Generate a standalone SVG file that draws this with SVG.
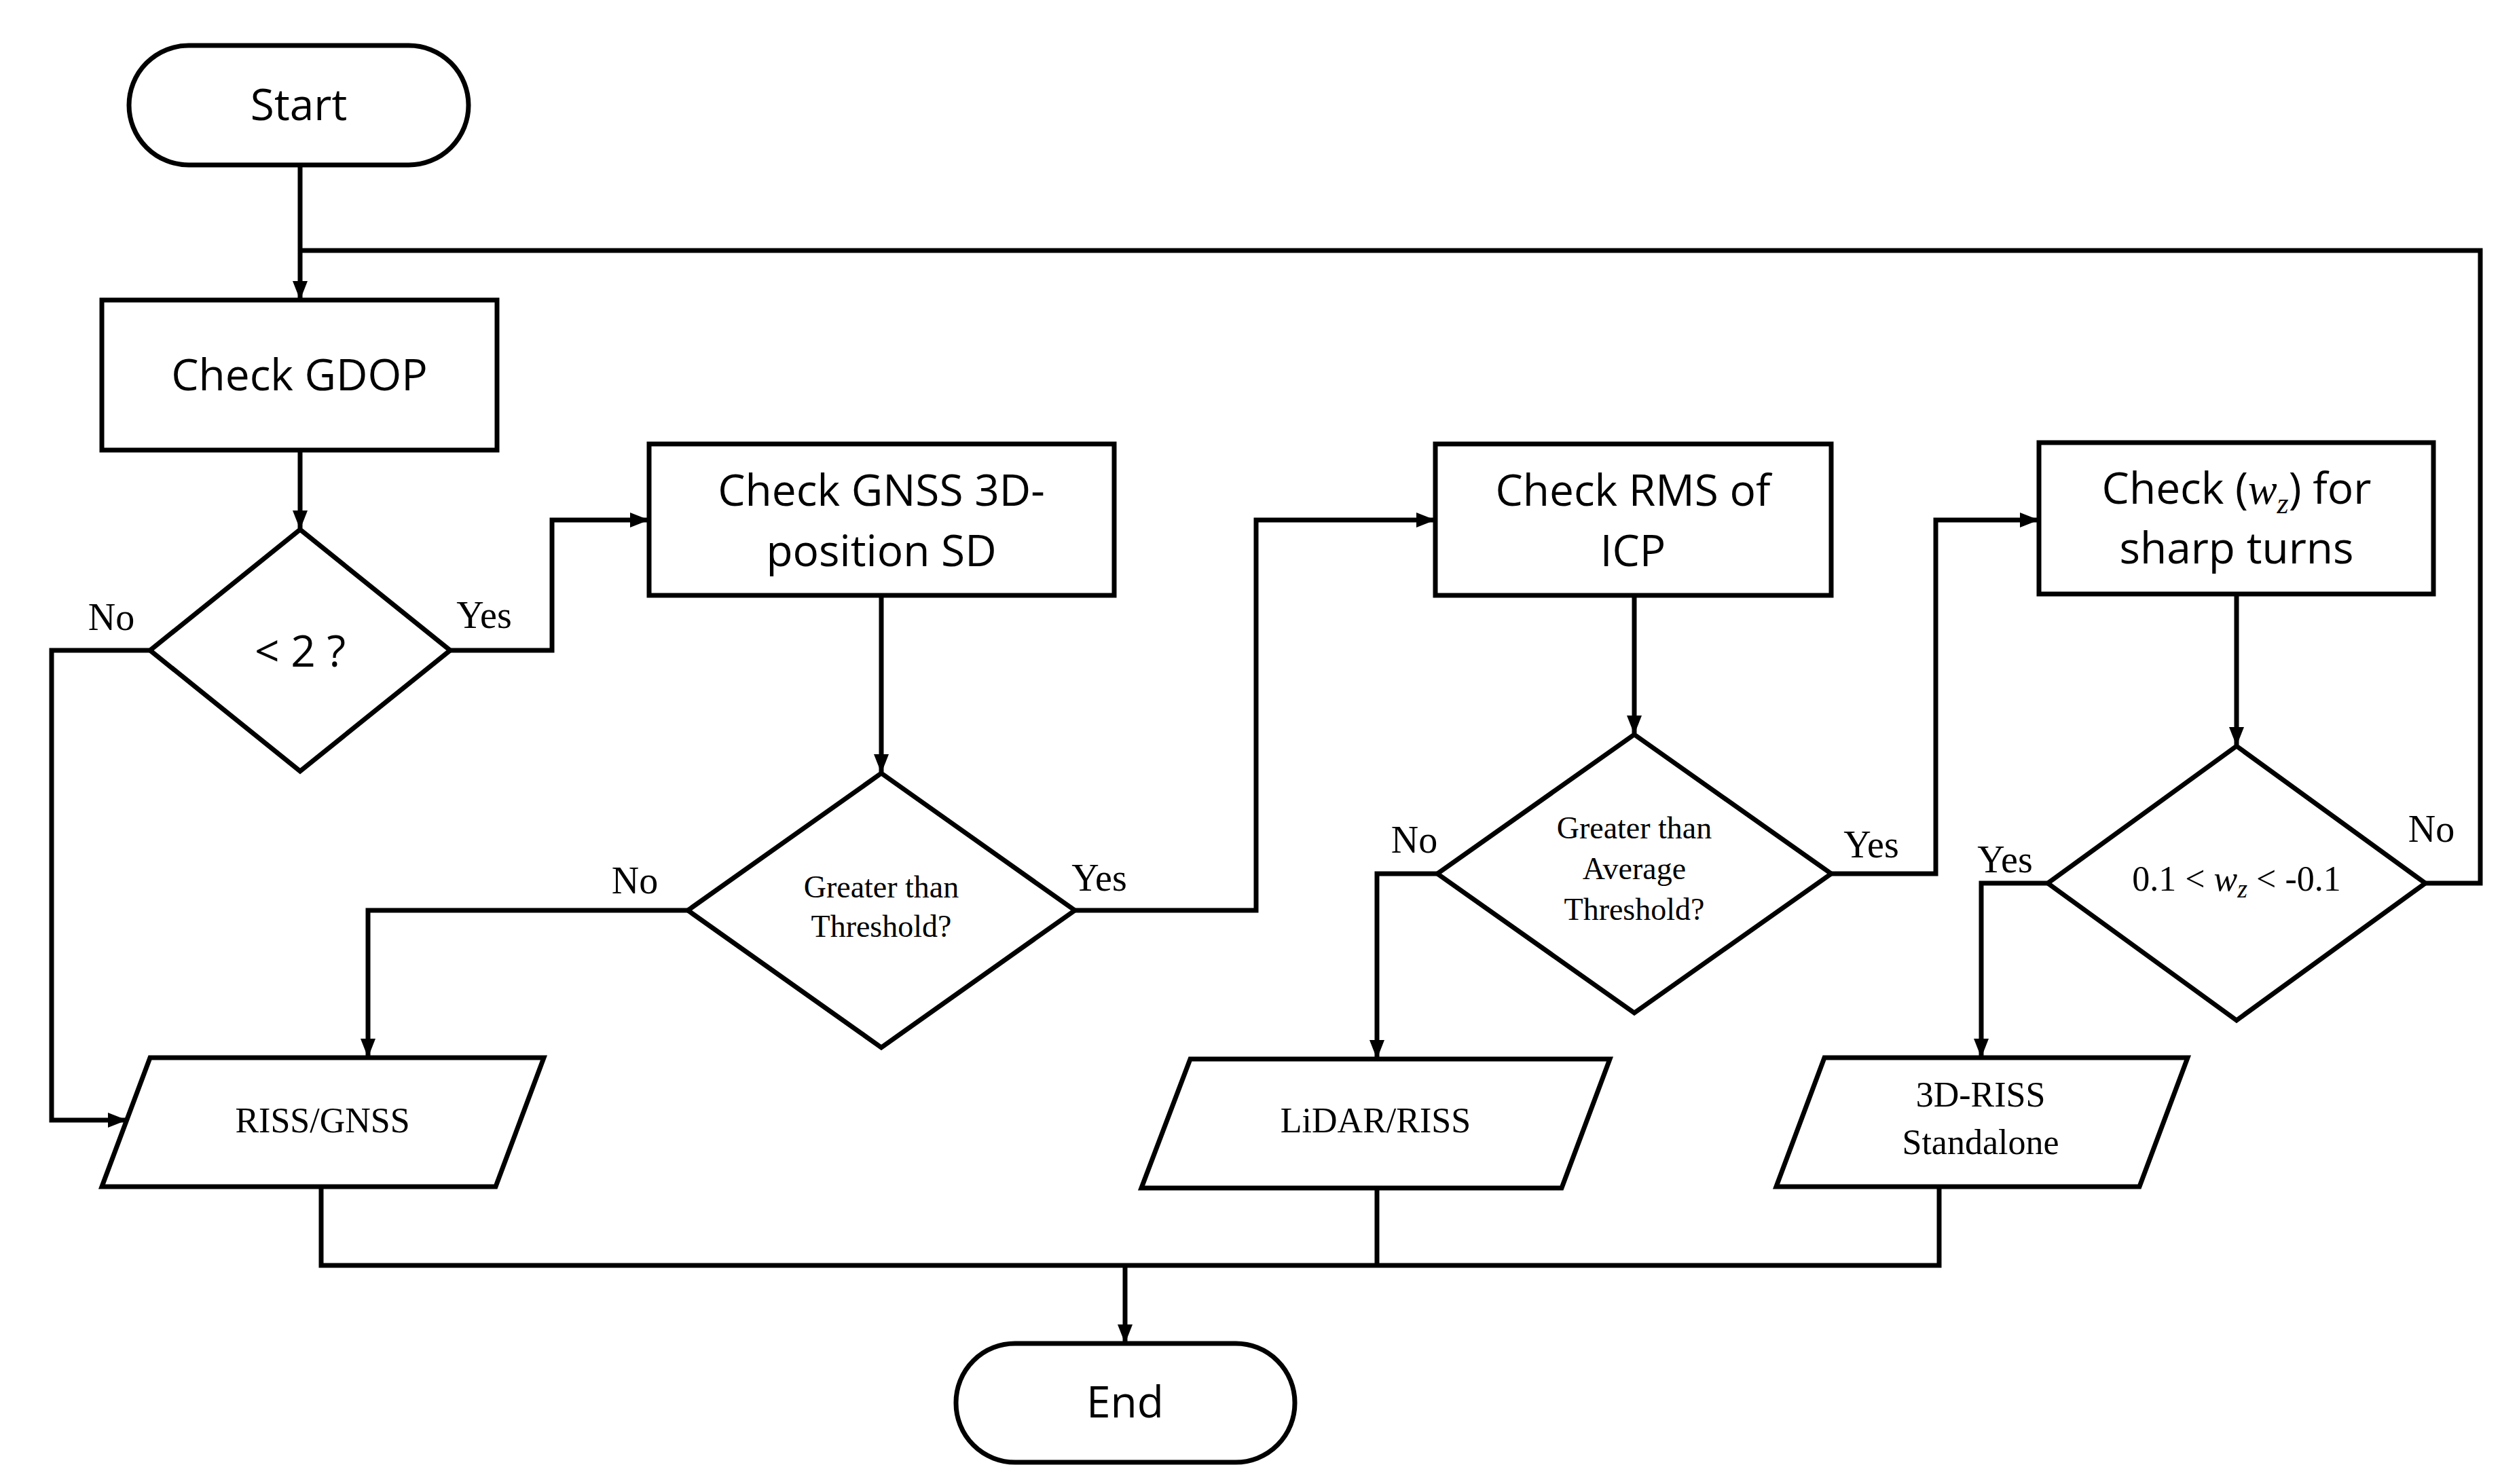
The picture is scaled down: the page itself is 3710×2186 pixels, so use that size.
<svg xmlns="http://www.w3.org/2000/svg" width="3710" height="2186" viewBox="0 0 3710 2186">
<style>
.s{fill:#fff;stroke:#000;stroke-width:7}
.c{fill:none;stroke:#000;stroke-width:7}
.t{font-family:"Open Sans","Liberation Sans",sans-serif;font-size:64px;text-anchor:middle;fill:#000}
.r{font-family:"Liberation Serif","DejaVu Serif",serif;text-anchor:middle;fill:#000}
.d{font-size:46px}
.l{font-size:56px}
.p{font-size:52px}
</style>
<defs><marker id="a" markerWidth="8" markerHeight="8" refX="7" refY="4" orient="auto" markerUnits="userSpaceOnUse" viewBox="0 0 8 8"><path d="M0,0L8,4L0,8z"/></marker>
<marker id="ar" markerWidth="28" markerHeight="28" refX="26" refY="14" orient="auto" markerUnits="userSpaceOnUse"><path d="M0,3L28,14L0,25z" fill="#000"/></marker></defs>
<g id="connectors">
<path class="c" d="M442,243V440" marker-end="url(#ar)"/>
<path class="c" d="M3572,1301H3653V369H442"/>
<path class="c" d="M442,663V778" marker-end="url(#ar)"/>
<path class="c" d="M663,958H813V766H954" marker-end="url(#ar)"/>
<path class="c" d="M221,958H76V1650H185" marker-end="url(#ar)"/>
<path class="c" d="M1298,877V1137" marker-end="url(#ar)"/>
<path class="c" d="M1013,1341H542V1556" marker-end="url(#ar)"/>
<path class="c" d="M1583,1341H1850V766H2112" marker-end="url(#ar)"/>
<path class="c" d="M2407,877V1080" marker-end="url(#ar)"/>
<path class="c" d="M2117,1287H2028V1558" marker-end="url(#ar)"/>
<path class="c" d="M2697,1287H2851V766H3001" marker-end="url(#ar)"/>
<path class="c" d="M3294,875V1097" marker-end="url(#ar)"/>
<path class="c" d="M3016,1301H2918V1556" marker-end="url(#ar)"/>
<path class="c" d="M473,1748V1864H2856V1748M2028,1750V1864"/>
<path class="c" d="M1657,1864V1977" marker-end="url(#ar)"/>
<g class="r l"><text x="713" y="925">Yes</text><text x="164" y="928">No</text><text x="935" y="1316">No</text><text x="1619" y="1312">Yes</text><text x="2083" y="1256">No</text><text x="2756" y="1263">Yes</text><text x="2953" y="1285">Yes</text><text x="3581" y="1240">No</text></g>
</g>
<g id="start"><rect class="s" x="190" y="67" width="500" height="176" rx="88"/><text class="t" x="440" y="177">Start</text></g>
<g id="gdop"><rect class="s" x="150" y="442" width="582" height="221"/><text class="t" x="441" y="575">Check GDOP</text></g>
<g id="d1"><path class="s" d="M442,780L663,958L442,1136L221,958z"/><text class="t" x="442" y="982">&lt; 2 ?</text></g>
<g id="gnss"><rect class="s" x="956" y="654" width="685" height="223"/><text class="t" x="1298" y="745">Check GNSS 3D-</text><text class="t" x="1298" y="834">position SD</text></g>
<g id="d2"><path class="s" d="M1298,1139L1583,1341L1298,1543L1013,1341z"/><text class="r d" x="1298" y="1322">Greater than</text><text class="r d" x="1298" y="1380">Threshold?</text></g>
<g id="rms"><rect class="s" x="2114" y="654" width="583" height="223"/><text class="t" x="2405" y="745">Check RMS of</text><text class="t" x="2405" y="834">ICP</text></g>
<g id="d3"><path class="s" d="M2407,1082L2697,1287L2407,1492L2117,1287z"/><text class="r d" x="2407" y="1235">Greater than</text><text class="r d" x="2407" y="1295">Average</text><text class="r d" x="2407" y="1355">Threshold?</text></g>
<g id="wz"><rect class="s" x="3003" y="652" width="581" height="223"/><text class="t" x="3294" y="742">Check (<tspan font-family="Liberation Serif,serif" font-style="italic">w</tspan><tspan font-family="Liberation Serif,serif" font-style="italic" font-size="44" dy="14">z</tspan><tspan dy="-14">) for</tspan></text><text class="t" x="3294" y="830">sharp turns</text></g>
<g id="d4"><path class="s" d="M3294,1099L3572,1301L3294,1503L3016,1301z"/><text class="r" font-size="52" x="3294" y="1312">0.1 &lt; <tspan font-style="italic">w</tspan><tspan font-style="italic" font-size="38" dy="10">z</tspan><tspan dy="-10"> &lt; -0.1</tspan></text></g>
<g id="rissgnss"><path class="s" d="M221,1558H801L730,1748H150z"/><text class="r p" x="475" y="1668">RISS/GNSS</text></g>
<g id="lidar"><path class="s" d="M1753,1560H2371L2300,1750H1681z"/><text class="r p" x="2026" y="1668">LiDAR/RISS</text></g>
<g id="riss3d"><path class="s" d="M2687,1558H3222L3151,1748H2616z"/><text class="r p" x="2917" y="1630">3D-RISS</text><text class="r p" x="2917" y="1700">Standalone</text></g>
<g id="end"><rect class="s" x="1408" y="1979" width="499" height="175" rx="87"/><text class="t" x="1657" y="2088">End</text></g>
</svg>
